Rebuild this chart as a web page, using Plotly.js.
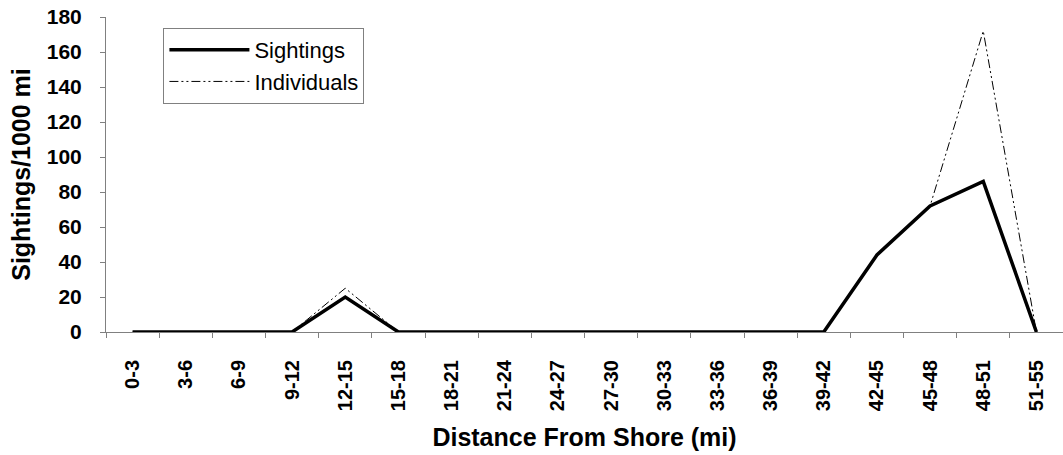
<!DOCTYPE html>
<html>
<head>
<meta charset="utf-8">
<script src="https://cdn.plot.ly/plotly-3.0.1.min.js"></script>
<style>html,body{margin:0;padding:0;background:#fff;}#chart{width:1063px;height:455px;}</style>
</head>
<body>
<div id="chart"></div>
<script>
const categories = ["0-3","3-6","6-9","9-12","12-15","15-18","18-21","21-24","24-27","27-30","30-33","33-36","36-39","39-42","42-45","45-48","48-51","51-55"];
const sightings = [0,0,0,0,20,0,0,0,0,0,0,0,0,0,44,72,86,0];
const individuals = [0,0,0,0,25,0,0,0,0,0,0,0,0,0,44,72,172,0];

const FONT = "Arial, 'Liberation Sans', sans-serif";

const traces = [
  {x: categories, y: sightings, name: "Sightings", type: "scatter", mode: "lines",
   line: {color: "#000", width: 3.5}},
  {x: categories, y: individuals, name: "Individuals", type: "scatter", mode: "lines",
   line: {color: "#000", width: 1, dash: "9px,3px,2px,3px,2px,3px"}}
];

const layout = {
  width: 1063, height: 455,
  margin: {l: 106, r: 0, t: 17, b: 123},
  paper_bgcolor: "#fff", plot_bgcolor: "#fff",
  font: {family: FONT, color: "#000"},
  showlegend: true,
  legend: {x: 0.06, y: 0.965, xanchor: "left", yanchor: "top",
           bordercolor: "#808080", borderwidth: 1, bgcolor: "#fff",
           font: {family: FONT, size: 22, color: "#000"}, itemwidth: 80,
           tracegroupgap: 0},
  xaxis: {
    type: "category", range: [-0.5, 17.5],
    showline: true, linecolor: "#808080", linewidth: 1,
    ticks: "outside", tickson: "boundaries", ticklen: 5, tickcolor: "#808080",
    showgrid: false, zeroline: false,
    tickangle: -90, ticklabelstandoff: 19,
    tickfont: {family: FONT, size: 20, weight: "bold", color: "#000"},
    title: {text: "Distance From Shore (mi)", standoff: 18,
            font: {family: FONT, size: 25, weight: "bold", color: "#000"}}
  },
  yaxis: {
    range: [0, 180], dtick: 20,
    showline: true, linecolor: "#808080", linewidth: 1,
    ticks: "outside", ticklen: 5, tickcolor: "#808080",
    showgrid: false, zeroline: false,
    ticklabelstandoff: 14,
    tickfont: {family: FONT, size: 21, weight: "bold", color: "#000"},
    title: {text: "Sightings/1000 mi", standoff: 9,
            font: {family: FONT, size: 25, weight: "bold", color: "#000"}}
  }
};

Plotly.newPlot("chart", traces, layout, {displayModeBar: false, staticPlot: true});
</script>
</body>
</html>
